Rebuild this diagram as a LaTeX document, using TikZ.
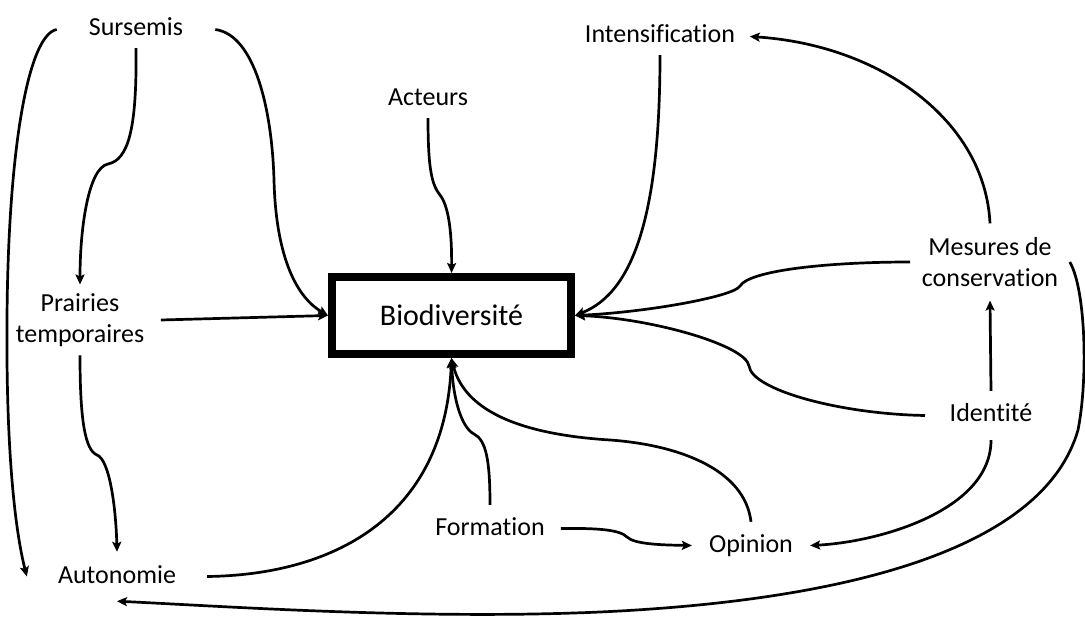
\documentclass[tikz,border=0pt]{standalone}
\usepackage{fontspec}
\setmainfont{Carlito}[RawFeature={-liga;-clig}]
\usetikzlibrary{arrows.meta}
\begin{document}
\begin{tikzpicture}[x=1pt,y=-1pt,
  lbl/.style={inner sep=0pt, anchor=base, font=\fontsize{26}{30}\selectfont, text height=18pt, text depth=5pt},
  mlbl/.style={inner sep=0pt, anchor=center, align=center, font=\fontsize{26}{30.5}\selectfont},
  biobox/.style={draw, line width=8pt, outer sep=4pt, minimum width=239pt, minimum height=77pt, inner sep=0pt, font=\fontsize{30}{34}\selectfont},
  conn/.style={line width=2.7pt, -{Stealth[length=10pt,width=9pt,inset=2pt]}},
]
\useasboundingbox (0,0) rectangle (1085,617);
\fill[white] (0,0) rectangle (1085,617);

% nodes
\node[biobox] (bio) at (451.5,315.5) {Biodiversité};
\node[lbl, inner xsep=32pt, inner ysep=7pt] (sur) at (136,36) {Sursemis};
\node[mlbl, inner xsep=16.5pt, inner ysep=9pt] (pra) at (80,320) {Prairies\\temporaires};
\node[lbl, inner xsep=10pt, inner ysep=7pt] (act) at (428,106) {Acteurs};
\node[lbl, inner xsep=14.5pt, inner ysep=7pt] (int) at (660,43) {Intensification};
\node[mlbl, inner xsep=11.5pt, inner ysep=14pt] (mes) at (990,262) {Mesures de\\conservation};
\node[lbl, inner xsep=24.5pt, inner ysep=13pt] (ide) at (991,422) {Identité};
\node[lbl, inner xsep=17pt, inner ysep=12pt] (opi) at (751,552) {Opinion};
\node[lbl, inner xsep=16pt, inner ysep=12pt] (for) at (490,535) {Formation};
\node[lbl, inner xsep=31pt, inner ysep=13pt] (aut) at (117,583) {Autonomie};

% connectors
\draw[conn] (sur.west) .. controls (28,35) and (8,150) .. (7,320) .. controls (6,450) and (15,530) .. (aut.west);
\draw[conn] (sur.south) .. controls (137,130) and (128,160) .. (108,164) .. controls (88,168) and (80,230) .. (pra.north);
\draw[conn] (sur.east) .. controls (255,35) and (272,110) .. (274,180) .. controls (276,260) and (298,298) .. (bio.west);
\draw[conn] (pra.east) -- (bio.west);
\draw[conn] (pra.south) .. controls (80,420) and (85,450) .. (97,455) .. controls (110,460) and (116,510) .. (aut.north);
\draw[conn] (act.south) .. controls (428,170) and (432,185) .. (440,195) .. controls (448,205) and (452,230) .. (bio.north);
\draw[conn] (int.south) .. controls (660,210) and (635,292) .. (bio.east);
\draw[conn] (mes.north) .. controls (985,120) and (880,45) .. (int.east);
\draw[conn] (mes.west) .. controls (830,262) and (750,270) .. (740,286) .. controls (735,296) and (650,312) .. (bio.east);
\draw[conn] (ide.west) .. controls (840,414) and (752,390) .. (749,366) .. controls (746,345) and (650,318) .. (bio.east);
\draw[conn] (ide.north) -- (mes.south);
\draw[conn] (ide.south) .. controls (991,510) and (880,542) .. (opi.east);
\draw[conn] (for.east) .. controls (600,528) and (620,530) .. (627,537) .. controls (634,544) and (660,545) .. (opi.west);
\draw[conn] (opi.north) .. controls (745,470) and (680,445) .. (610,440) .. controls (530,435) and (465,415) .. (bio.south);
\draw[conn] (for.north) .. controls (490,460) and (486,440) .. (474,434) .. controls (462,428) and (453,400) .. (bio.south);
\draw[conn] (aut.east) .. controls (330,575) and (445,520) .. (bio.south);
\draw[conn] (mes.east) .. controls (1086,290) and (1088,380) .. (1078,430) .. controls (1045,545) and (860,600) .. (600,612) .. controls (420,620) and (220,606) .. (aut.south);
\end{tikzpicture}
\end{document}
